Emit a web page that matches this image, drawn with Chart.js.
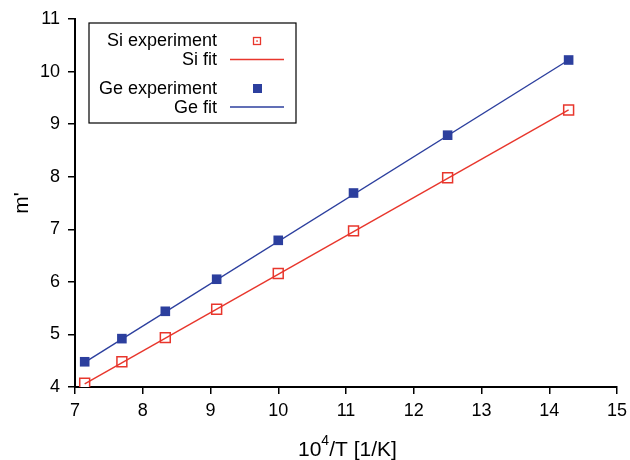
<!DOCTYPE html>
<html>
<head>
<meta charset="utf-8">
<script src="https://cdn.jsdelivr.net/npm/chart.js@4.4.0/dist/chart.umd.min.js"></script>
<style>
  html, body { margin: 0; padding: 0; background: #fff; }
  #wrap { width: 630px; height: 460px; }
</style>
</head>
<body>
<div id="wrap"><canvas id="c" width="630" height="460"></canvas></div>
<script>
// ======= Data =======
const invT = [7.143, 7.692, 8.333, 9.091, 10.0, 11.111, 12.5, 14.286]; // 10^4/T
const siExp = [4.07, 4.48, 4.94, 5.48, 6.16, 6.97, 7.98, 9.27];
const geExp = [4.48, 4.92, 5.44, 6.05, 6.79, 7.69, 8.79, 10.22];
const fitX = [7.143, 14.286];
const siFit = [4.06, 9.27];
const geFit = [4.47, 10.22];
const xTicks = [7, 8, 9, 10, 11, 12, 13, 14, 15];
const yTicks = [4, 5, 6, 7, 8, 9, 10, 11];

// ======= Style =======
const RED = '#e8362c';
const BLUE = '#2c3f9e';
const FONT = "'Liberation Sans', Arial, Helvetica, sans-serif";
Chart.defaults.font.family = FONT;
Chart.defaults.color = '#000';

const pts = (xs, ys) => xs.map((x, i) => ({ x, y: ys[i] }));

// titles + legend drawn on top
const decor = {
  id: 'decor',
  afterDraw(chart) {
    const ctx = chart.ctx;
    ctx.save();
    ctx.fillStyle = '#000';
    ctx.textBaseline = 'alphabetic';

    // x title with real superscript
    const big = `21px ${FONT}`, small = `14px ${FONT}`;
    ctx.font = big;
    const w1 = ctx.measureText('10').width;
    ctx.font = small;
    const w2 = ctx.measureText('4').width;
    const x0 = 298, base = 456;
    ctx.textAlign = 'left';
    ctx.font = big; ctx.fillText('10', x0, base);
    ctx.font = small; ctx.fillText('4', x0 + w1, base - 11);
    ctx.font = big; ctx.fillText('/T [1/K]', x0 + w1 + w2, base);

    ctx.save();
    ctx.translate(28, 203);
    ctx.rotate(-Math.PI / 2);
    ctx.textAlign = 'center';
    ctx.font = big;
    ctx.fillText("m'", 0, 0);
    ctx.restore();

    // legend box
    const bx = 89, by = 23, bw = 207, bh = 100;
    ctx.fillStyle = '#fff';
    ctx.fillRect(bx, by, bw, bh);
    ctx.strokeStyle = '#000';
    ctx.lineWidth = 1.2;
    ctx.strokeRect(bx, by, bw, bh);

    ctx.fillStyle = '#000';
    ctx.font = `18px ${FONT}`;
    ctx.textAlign = 'right';
    ctx.textBaseline = 'middle';
    const tx = 217;
    ctx.fillText('Si experiment', tx, 41);
    ctx.fillText('Si fit', tx, 60);
    ctx.fillText('Ge experiment', tx, 89);
    ctx.fillText('Ge fit', tx, 108);

    // Si marker
    ctx.strokeStyle = RED; ctx.lineWidth = 1.3;
    ctx.strokeRect(253.5, 37.5, 7, 7);
    ctx.fillStyle = RED;
    ctx.fillRect(256.3, 40.3, 1.5, 1.5);
    // Si fit line
    ctx.beginPath(); ctx.moveTo(230, 59.5); ctx.lineTo(284, 59.5); ctx.stroke();
    // Ge marker
    ctx.fillStyle = BLUE;
    ctx.fillRect(253, 84, 9, 9);
    ctx.strokeStyle = BLUE;
    ctx.beginPath(); ctx.moveTo(230, 107); ctx.lineTo(284, 107); ctx.stroke();
    ctx.restore();
  }
};

const axisCommon = {
  grid: { display: true, drawOnChartArea: false, drawTicks: true, tickLength: 7, color: '#000', lineWidth: 1.5 },
  border: { display: true, color: '#000', width: 2 },
};

new Chart(document.getElementById('c'), {
  type: 'scatter',
  data: {
    datasets: [
      { label: 'Si fit', data: pts(fitX, siFit), showLine: true, borderColor: RED, borderWidth: 1.4, pointRadius: 0 },
      { label: 'Ge fit', data: pts(fitX, geFit), showLine: true, borderColor: BLUE, borderWidth: 1.4, pointRadius: 0 },
      { label: 'Si experiment', data: pts(invT, siExp), showLine: false, pointStyle: 'rect', pointRadius: 7,
        pointBackgroundColor: '#fff', pointBorderColor: RED, pointBorderWidth: 1.5 },
      { label: 'Ge experiment', data: pts(invT, geExp), showLine: false, pointStyle: 'rect', pointRadius: 6.8,
        pointBackgroundColor: BLUE, pointBorderColor: BLUE, pointBorderWidth: 0 },
    ]
  },
  options: {
    responsive: false,
    animation: false,
    layout: { padding: { top: 19, right: 13, left: 0, bottom: 0 } },
    plugins: { legend: { display: false }, tooltip: { enabled: false } },
    scales: {
      x: {
        ...axisCommon,
        min: 7, max: 15,
        afterBuildTicks: s => { s.ticks = xTicks.map(v => ({ value: v })); },
        afterFit: s => { s.height = 73; s.paddingRight = 0; },
        ticks: { font: { size: 18 }, padding: 6, maxRotation: 0 },
      },
      y: {
        ...axisCommon,
        min: 4, max: 11,
        afterBuildTicks: s => { s.ticks = yTicks.map(v => ({ value: v })); },
        afterFit: s => { s.width = 75; },
        ticks: { font: { size: 18 }, padding: 8 },
      }
    }
  },
  plugins: [decor]
});
</script>
</body>
</html>
